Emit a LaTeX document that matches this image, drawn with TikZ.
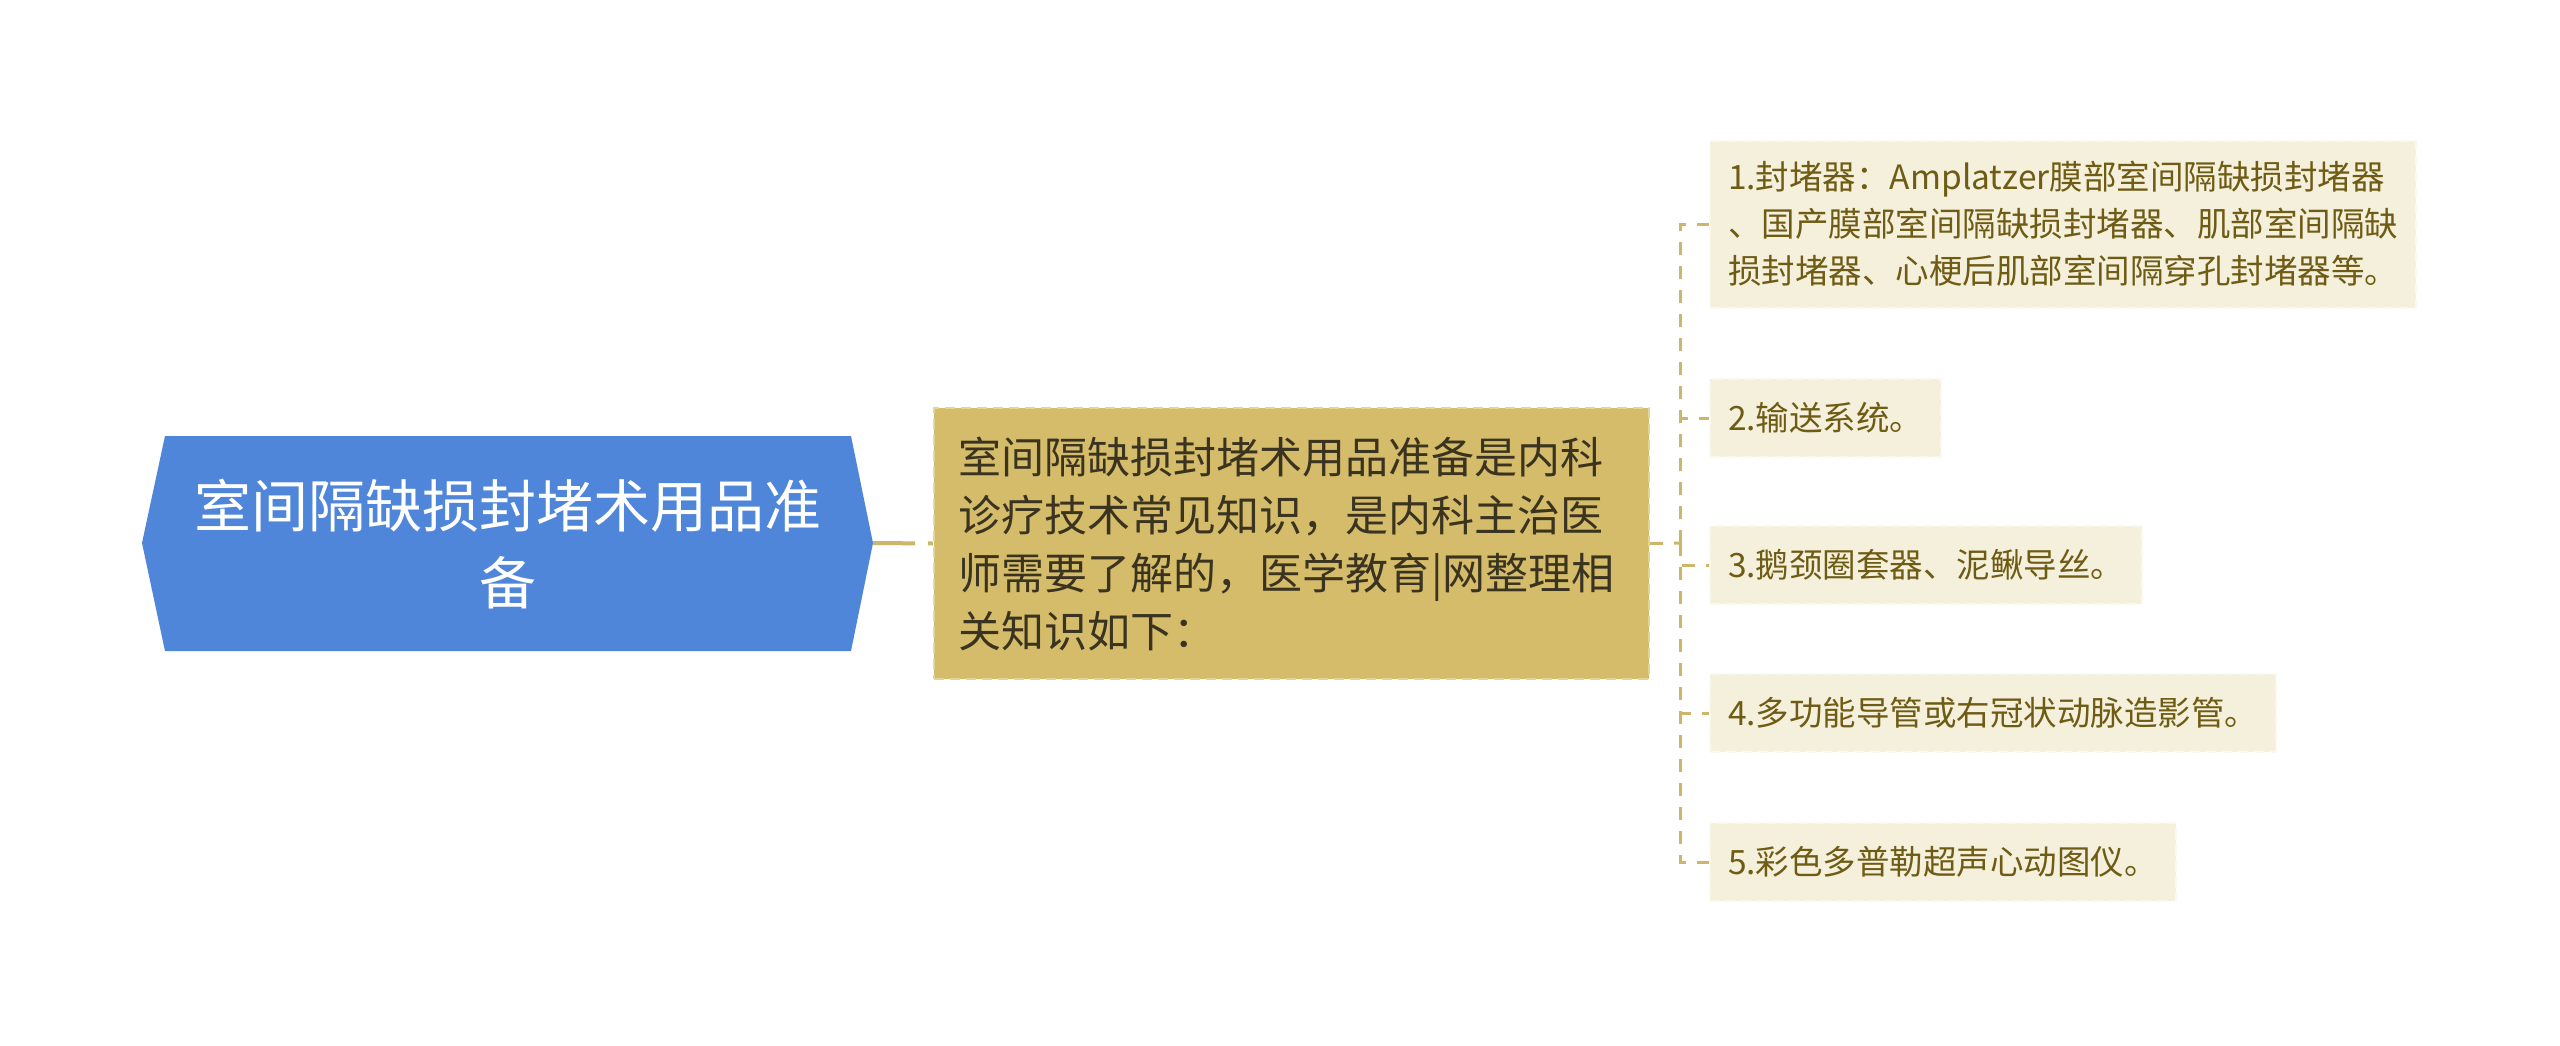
\documentclass[tikz,border=0pt]{standalone}
\usepackage{fontspec}
\setmainfont{Noto Sans CJK SC}
\usetikzlibrary{calc}
\definecolor{rootblue}{HTML}{4F86DA}
\definecolor{midfill}{HTML}{D4BC6A}
\definecolor{midborder}{HTML}{E4D596}
\definecolor{midtext}{HTML}{3A3320}
\definecolor{leaffill}{HTML}{F5F0DC}
\definecolor{leafborder}{HTML}{FBF8EE}
\definecolor{leaftext}{HTML}{6E5B14}
\definecolor{linkcol}{HTML}{CDB56A}
\begin{document}
\begin{tikzpicture}[x=1pt,y=-1pt,
  roottext/.style={text=white, font=\fontsize{57pt}{77pt}\selectfont, align=center, inner sep=0pt},
  midbox/.style={fill=midfill, draw=midborder, line width=2pt, dash pattern=on 10pt off 6pt,
    text=midtext, font=\fontsize{43pt}{58pt}\selectfont, align=left, text width=667pt,
    inner xsep=24pt, inner ysep=0pt, minimum height=271pt},
  leafbox/.style={fill=leaffill, draw=leafborder, line width=2pt, dash pattern=on 10pt off 6pt,
    text=leaftext, font=\fontsize{33.5pt}{47pt}\selectfont, align=left,
    inner xsep=18pt, inner ysep=0pt, minimum height=78pt, anchor=west},
  mainlink/.style={draw=linkcol, line width=4pt, dash pattern=on 42pt off 13pt},
  sublink/.style={draw=linkcol, line width=3pt, dash pattern=on 13pt off 11pt}
]
\useasboundingbox (0,0) rectangle (2560,1045);
\fill[white] (0,0) rectangle (2560,1045);

% root hexagon
\fill[rootblue] (142,543) -- (165,436) -- (851,436) -- (873,543) -- (851,651) -- (165,651) -- cycle;
\node[roottext] (root) at (508,544) {室间隔缺损封堵术用品准\\备};
\coordinate (roottip) at (873,543);

% middle node
\node[midbox] (mid) at (1291.5,543.5) {室间隔缺损封堵术用品准备是内科\\诊疗技术常见知识，是内科主治医\\师需要了解的，医学教育|网整理相\\关知识如下：};

% leaves
\node[leafbox, minimum height=167pt] (l1) at (1709,224) {1.封堵器：Amplatzer膜部室间隔缺损封堵器\\、国产膜部室间隔缺损封堵器、肌部室间隔缺\\损封堵器、心梗后肌部室间隔穿孔封堵器等。};
\node[leafbox] (l2) at (1709,418) {2.输送系统。};
\node[leafbox] (l3) at (1709,565) {3.鹅颈圈套器、泥鳅导丝。};
\node[leafbox] (l4) at (1709,713) {4.多功能导管或右冠状动脉造影管。};
\node[leafbox] (l5) at (1709,862) {5.彩色多普勒超声心动图仪。};

% connectors
\draw[mainlink] (roottip) -- (mid.west);
\coordinate (tj) at (1680,543);
\draw[sublink] (mid.east) -- (tj);
\foreach \n in {l1,l2,l3,l4,l5}{
  \draw[sublink] (tj) |- (\n.west);
}
\end{tikzpicture}
\end{document}
